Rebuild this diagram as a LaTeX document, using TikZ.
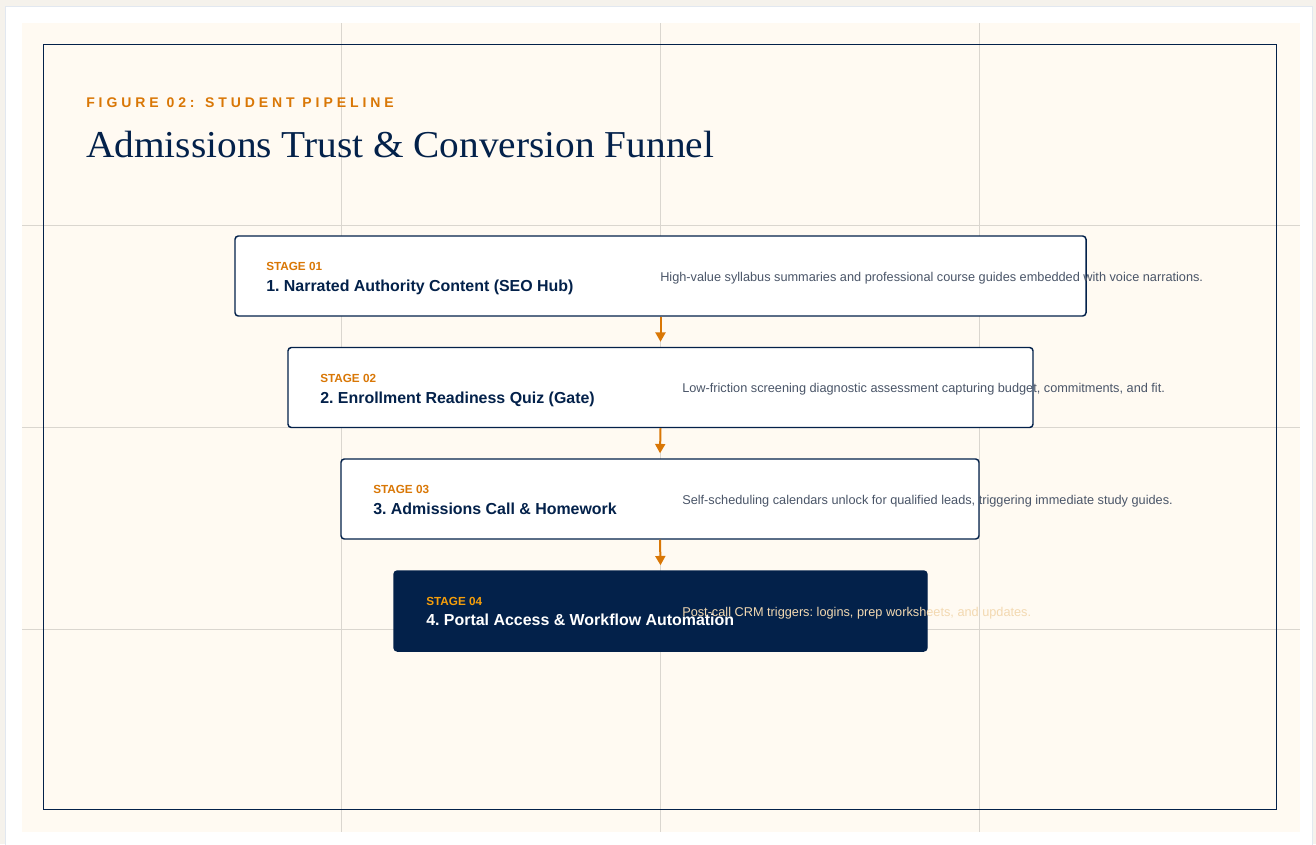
\documentclass[tikz,border=0pt]{standalone}
\usepackage{fontspec}
\setmainfont{Liberation Sans}
\newfontfamily\headserif[FakeStretch=1.035]{Liberation Serif}
\usetikzlibrary{arrows.meta}
\definecolor{navy}{HTML}{03214A}
\definecolor{orng}{HTML}{D97706}
\definecolor{orngb}{HTML}{F59E0B}
\definecolor{cream}{HTML}{FFFAF2}
\definecolor{gridc}{HTML}{DAD6CF}
\definecolor{descc}{HTML}{4A5568}
\definecolor{wheatc}{HTML}{F3D9B1}
\definecolor{pagebg}{HTML}{F5F2EC}
\definecolor{cardline}{HTML}{E2E8F0}
\tikzset{
  stagebox/.style={draw=navy, line width=1.1pt, fill=white, rounded corners=2.5pt, inner sep=0pt, minimum height=60pt},
  darkbox/.style={stagebox, fill=navy},
  stagelbl/.style={anchor=base west, inner sep=0pt, text=orng, font=\fontsize{8.8pt}{10pt}\selectfont\bfseries},
  stagettl/.style={anchor=base west, inner sep=0pt, text=navy, font=\fontsize{11.95pt}{13pt}\selectfont\bfseries\frenchspacing},
  desc/.style={anchor=west, inner sep=0pt, text=descc, font=\fontsize{9.55pt}{11pt}\selectfont\frenchspacing},
  arr/.style={draw=orng, line width=1.5pt, -{Triangle[width=7.5pt,length=7pt]}},
  gridl/.style={draw=gridc, line width=0.75pt}
}
\begin{document}
\begin{tikzpicture}[x=0.75pt, y=-0.75pt]
\useasboundingbox (0,0) rectangle (1316,844);
\fill[pagebg] (0,0) rectangle (1316,844);
\filldraw[fill=white, draw=cardline, line width=1pt] (5.5,6.5) rectangle (1312.5,860);
\fill[cream] (22,23) rectangle (1300,832);
% grid
\foreach \gx in {341,660,979} \draw[gridl] (\gx,23) -- (\gx,832);
\foreach \gy in {225,427,629} \draw[gridl] (22,\gy) -- (1300,\gy);
% frame
\draw[navy, line width=0.9pt] (43.5,44.5) rectangle (1276.5,809.5);
% header
\node[anchor=base west, inner sep=0pt, text=orng, font=\fontsize{10.5pt}{12pt}\selectfont\bfseries\addfontfeature{LetterSpace=28}] (fig) at (86,107) {FIGURE 02: STUDENT PIPELINE};
\node[anchor=base west, inner sep=0pt, text=navy, font=\headserif\fontsize{28.5pt}{32pt}\selectfont] (ttl) at (86,157) {Admissions Trust \& Conversion Funnel};
% boxes
\node[stagebox, minimum width=638.25pt] (b1) at (660.5,276) {};
\node[stagebox, minimum width=558.75pt] (b2) at (660.5,387.5) {};
\node[stagebox, minimum width=478.5pt] (b3) at (660,499) {};
\node[darkbox, minimum width=399.75pt] (b4) at (660.5,611) {};
% texts box 1
\node[stagelbl] (l1) at (266,270) {STAGE 01};
\node[stagettl] (t1) at (266,291) {1. Narrated Authority Content (SEO Hub)};
\node[desc] (d1) at (660,278) {High-value syllabus summaries and professional course guides embedded with voice narrations.};
% box 2
\node[stagelbl] (l2) at (320,382) {STAGE 02};
\node[stagettl] (t2) at (320,403) {2. Enrollment Readiness Quiz (Gate)};
\node[desc] (d2) at (682,389.5) {Low-friction screening diagnostic assessment capturing budget, commitments, and fit.};
% box 3
\node[stagelbl] (l3) at (373,493) {STAGE 03};
\node[stagettl] (t3) at (373,514) {3. Admissions Call \& Homework};
\node[desc] (d3) at (682,501) {Self-scheduling calendars unlock for qualified leads, triggering immediate study guides.};
% box 4
\node[stagelbl, text=orngb] (l4) at (426,605) {STAGE 04};
\node[stagettl, text=white] (t4) at (426,625) {4. Portal Access \& Workflow Automation};
\node[desc, text=wheatc] (d4) at (682,613) {Post-call CRM triggers: logins, prep worksheets, and updates.};
% arrows
\draw[arr] (b1.south) -- ([yshift=3.75pt]b2.north);
\draw[arr] (b2.south) -- ([yshift=3.75pt]b3.north);
\draw[arr] (b3.south) -- ([yshift=3.75pt]b4.north);
\end{tikzpicture}
\end{document}
